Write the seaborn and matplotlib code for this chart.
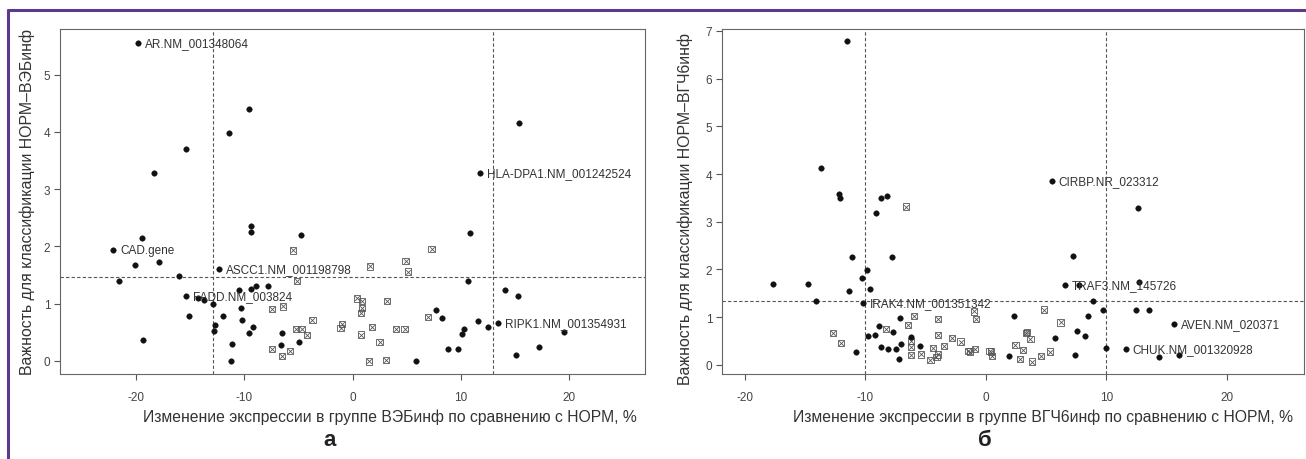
import matplotlib
matplotlib.use("Agg")
import matplotlib.pyplot as plt
import matplotlib.lines as mlines
import seaborn as sns
import pandas as pd

# ---------------- Panel а (ВЭБинф) ----------------
a_sig_x = [-9.6, -11.4, -15.4, -18.3, -9.4, -9.4, -4.8, 15.4, -19.4, -20.1, -17.9, -16.0, -21.6,
           -14.3, -13.7, -12.9, -15.1, -19.3, -12.0, -12.7, -12.8, -11.1, -11.2, -10.5, -9.4, -8.9,
           -7.8, -10.3, -10.2, -9.2, -9.6, -6.5, -6.6, -4.9, 10.8, 10.7, 14.1, 15.3, 7.7, 8.3, 11.6,
           12.5, 10.3, 10.1, 19.5, 17.2, 15.1, 8.8, 9.7, 5.9]
a_sig_y = [4.41, 3.98, 3.70, 3.29, 2.35, 2.25, 2.20, 4.15, 2.15, 1.68, 1.72, 1.49, 1.39,
           1.09, 1.07, 0.99, 0.79, 0.37, 0.79, 0.62, 0.53, 0.30, 0.00, 1.23, 1.26, 1.30,
           1.31, 0.92, 0.72, 0.59, 0.49, 0.49, 0.27, 0.33, 2.23, 1.40, 1.23, 1.14, 0.88, 0.75, 0.69,
           0.59, 0.55, 0.47, 0.50, 0.24, 0.10, 0.21, 0.20, -0.01]
a_ns_x = [-5.5, -5.1, -7.4, -6.4, -3.7, -5.2, -4.7, -4.2, -7.4, -6.5, -5.8, 7.3, 4.9, 5.1, 1.6,
          0.4, 0.9, 3.2, 0.9, 0.8, 7.0, -1.0, -1.1, 1.8, 4.0, 4.8, 0.8, 2.5, 1.5, 3.1]
a_ns_y = [1.93, 1.40, 0.90, 0.95, 0.72, 0.55, 0.56, 0.45, 0.21, 0.09, 0.17, 1.95, 1.75, 1.56, 1.65,
          1.09, 1.05, 1.04, 0.92, 0.84, 0.76, 0.65, 0.57, 0.59, 0.56, 0.55, 0.46, 0.33, -0.01, 0.01]
a_lab_names = ["AR.NM_001348064", "HLA-DPA1.NM_001242524", "CAD.gene",
               "ASCC1.NM_001198798", "FADD.NM_003824", "RIPK1.NM_001354931"]
a_lab_x = [-19.8, 11.8, -22.1, -12.3, -15.4, 13.4]
a_lab_y = [5.56, 3.29, 1.93, 1.61, 1.14, 0.66]
a_thr_x = [-12.9, 13.0]
a_thr_y = 1.47

# ---------------- Panel б (ВГЧ6инф) ----------------
b_sig_x = [-11.5, -13.7, -12.2, -12.1, -8.7, -8.2, -9.1, 12.6, -17.7, -14.8, -14.1, -11.1, -7.8,
           -9.9, -10.3, -11.4, -9.6, -10.8, -9.8, -9.2, -8.85, -7.7, -7.1, -8.7, -8.1, -7.5, -7.05,
           -7.2, -6.2, -5.5, 7.2, 7.7, 12.7, 8.9, 9.7, 12.45, 13.55, 2.3, 8.5, 7.6, 8.2, 5.7, 9.95,
           7.4, 14.4, 16.0, 1.9]
b_sig_y = [6.78, 4.12, 3.58, 3.49, 3.49, 3.53, 3.19, 3.28, 1.70, 1.70, 1.33, 2.26, 2.26,
           1.98, 1.82, 1.54, 1.59, 0.28, 0.61, 0.63, 0.82, 0.68, 0.99, 0.37, 0.33, 0.34, 0.43,
           0.13, 0.58, 0.40, 2.29, 1.68, 1.73, 1.33, 1.16, 1.16, 1.16, 1.02, 1.03, 0.72, 0.60, 0.56, 0.35,
           0.20, 0.17, 0.21, 0.19]
b_ns_x = [-6.6, -12.7, -12.0, -8.3, -5.95, -6.45, -4.0, -4.0, -6.2, -6.2, -6.2, -5.4, -4.4, -3.5,
          -4.0, -4.1, -4.6, -2.8, -2.1, -1.3, -0.9, -1.0, -0.8, 4.8, 6.2, 3.3, 3.4, 3.7, 2.45, 3.1,
          5.3, 4.6, 3.8, 2.8, 0.4, 0.5, 0.3, -1.5]
b_ns_y = [3.32, 0.67, 0.46, 0.75, 1.02, 0.84, 0.96, 0.63, 0.50, 0.37, 0.21, 0.22, 0.35, 0.40,
          0.22, 0.16, 0.11, 0.56, 0.49, 0.28, 0.33, 1.12, 0.97, 1.16, 0.89, 0.67, 0.69, 0.55, 0.42, 0.32,
          0.28, 0.19, 0.07, 0.12, 0.28, 0.19, 0.30, 0.29]
b_lab_names = ["CIRBP.NR_023312", "TRAF3.NM_145726", "IRAK4.NM_001351342",
               "AVEN.NM_020371", "CHUK.NM_001320928"]
b_lab_x = [5.45, 6.55, -10.2, 15.6, 11.6]
b_lab_y = [3.86, 1.67, 1.30, 0.86, 0.34]
b_thr_x = [-10.0, 10.0]
b_thr_y = 1.34

x_ticks = [-20, -10, 0, 10, 20]

sns.set_theme(style="ticks")
plt.rcParams['font.family'] = ['Liberation Sans', 'DejaVu Sans']
plt.rcParams['axes.unicode_minus'] = False

fig = plt.figure(figsize=(13.06, 4.60), dpi=100)
ax_a = fig.add_axes([60/1306, 1-375/460, 585/1306, 345/460])
ax_b = fig.add_axes([722/1306, 1-375/460, 582/1306, 345/460])

TXT = '#333333'
GRAY = '#555555'


def draw(ax, sx, sy, nx, ny, lx, ly, lnames, thx, thy, xlim, ylim, yticks, xlabel, ylabel,
         xlab_pos, ylab_pos):
    dsig = pd.DataFrame({'x': list(sx) + list(lx), 'y': list(sy) + list(ly)})
    dns = pd.DataFrame({'x': nx, 'y': ny})
    sns.scatterplot(data=dns, x='x', y='y', ax=ax, marker='s', s=20, color='none',
                    edgecolor=GRAY, linewidth=0.6, legend=False, zorder=3)
    sns.scatterplot(data=dns, x='x', y='y', ax=ax, marker='x', s=11, color=GRAY,
                    linewidth=0.6, legend=False, zorder=3)
    sns.scatterplot(data=dsig, x='x', y='y', ax=ax, marker='o', s=16, color='#111111',
                    edgecolor='#111111', linewidth=0.3, legend=False, zorder=4)
    for name, x, y in zip(lnames, lx, ly):
        ax.annotate(name, (x, y), xytext=(5, 0), textcoords='offset points',
                    ha='left', va='center', fontsize=8.5, color=TXT, zorder=5)
    for t in thx:
        ax.axvline(t, color='#555555', lw=0.8, ls=(0, (3, 2)), zorder=2)
    ax.axhline(thy, color='#555555', lw=0.8, ls=(0, (3, 2)), zorder=2)
    ax.set_xlim(*xlim)
    ax.set_ylim(*ylim)
    ax.set_xticks(x_ticks)
    ax.set_yticks(yticks)
    ax.tick_params(axis='both', direction='out', length=4, width=0.8, color='#555555',
                   labelsize=8.5, labelcolor='#444444', pad=3)
    ax.tick_params(axis='x', pad=8)
    for sp in ax.spines.values():
        sp.set_color('#666666')
        sp.set_linewidth(0.8)
    ax.set_xlabel(xlabel, fontsize=11.3, color=TXT)
    ax.set_ylabel(ylabel, fontsize=11.4, color=TXT)
    ax.xaxis.set_label_coords(xlab_pos, -0.10)
    ax.yaxis.set_label_coords(ylab_pos[0], ylab_pos[1])
    ax.grid(False)


draw(ax_a, a_sig_x, a_sig_y, a_ns_x, a_ns_y, a_lab_x, a_lab_y, a_lab_names, a_thr_x, a_thr_y,
     (-27, 27), (-0.23, 5.8), [0, 1, 2, 3, 4, 5],
     'Изменение экспрессии в группе ВЭБинф по сравнению с НОРМ, %',
     'Важность для классификации НОРМ–ВЭБинф', 0.564, (-0.043, 0.5))
draw(ax_b, b_sig_x, b_sig_y, b_ns_x, b_ns_y, b_lab_x, b_lab_y, b_lab_names, b_thr_x, b_thr_y,
     (-21.9, 26.4), (-0.19, 7.04), [0, 1, 2, 3, 4, 5, 6, 7],
     'Изменение экспрессии в группе ВГЧ6инф по сравнению с НОРМ, %',
     'Важность для классификации НОРМ–ВГЧ6инф', 0.552, (-0.05, 0.48))

fig.text(330/1306, 1-441/460, 'а', fontsize=16, fontweight='bold', color='#222222',
         ha='center', va='center')
fig.text(985/1306, 1-441/460, 'б', fontsize=16, fontweight='bold', color='#222222',
         ha='center', va='center')

# purple frame lines
PURPLE = '#5c3a8e'
fig.add_artist(mlines.Line2D([8/1306, 1.0], [1-11/460, 1-11/460], color=PURPLE, lw=2.2,
                             transform=fig.transFigure))
fig.add_artist(mlines.Line2D([8/1306, 8/1306], [0, 1-11/460], color=PURPLE, lw=2.2,
                             transform=fig.transFigure))

fig.savefig('out.png', dpi=100)
